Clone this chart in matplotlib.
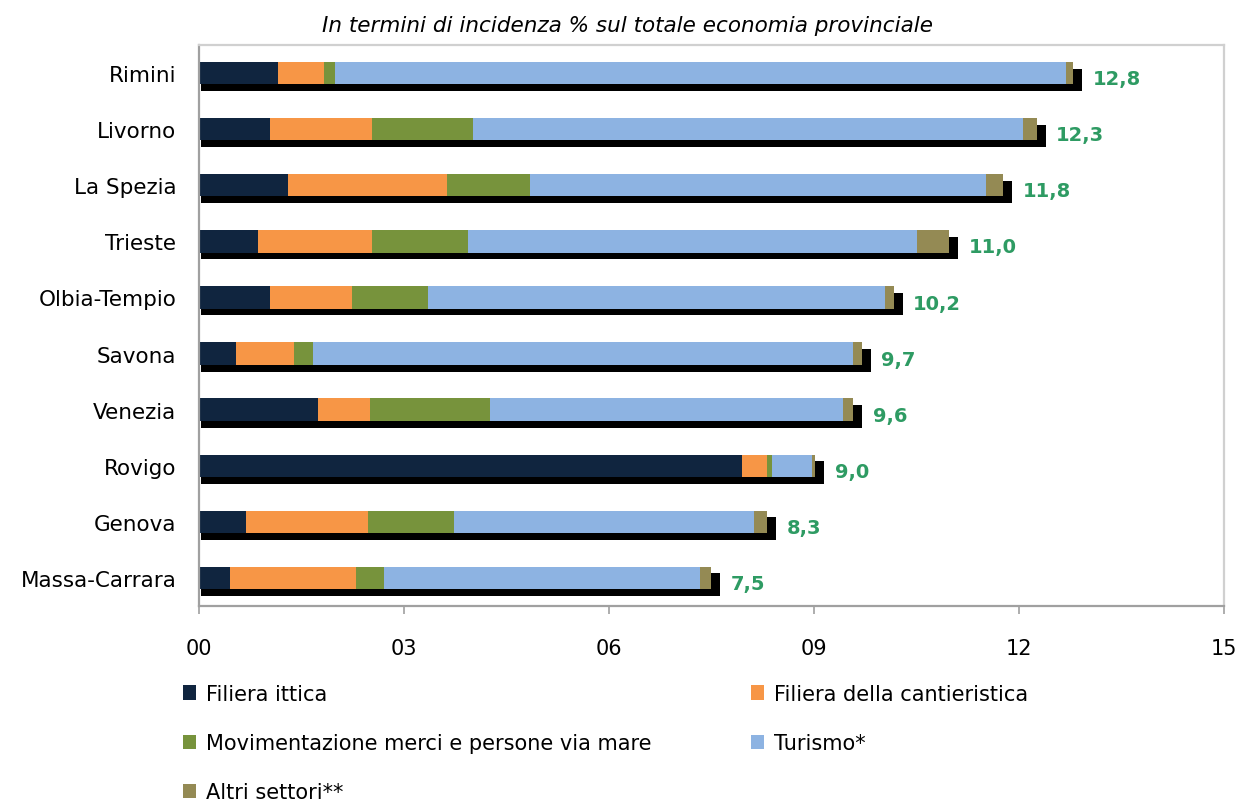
import matplotlib
matplotlib.use("Agg")
import matplotlib.pyplot as plt
from matplotlib.patches import Patch
import numpy as np

plt.rcParams['font.family'] = ['DejaVu Sans']

provinces = ["Rimini", "Livorno", "La Spezia", "Trieste", "Olbia-Tempio",
             "Savona", "Venezia", "Rovigo", "Genova", "Massa-Carrara"]
ittica = [1.17, 1.05, 1.31, 0.87, 1.05, 0.55, 1.75, 7.95, 0.70, 0.46]
cantieristica = [0.66, 1.49, 2.32, 1.67, 1.20, 0.85, 0.76, 0.36, 1.78, 1.84]
movimentazione = [0.17, 1.48, 1.22, 1.40, 1.10, 0.28, 1.75, 0.08, 1.25, 0.42]
turismo = [10.69, 8.04, 6.67, 6.57, 6.69, 7.89, 5.16, 0.59, 4.40, 4.62]
altri = [0.10, 0.20, 0.25, 0.47, 0.13, 0.13, 0.16, 0.04, 0.19, 0.16]

series_names = ["Filiera ittica", "Filiera della cantieristica",
                "Movimentazione merci e persone via mare", "Turismo*", "Altri settori**"]
series_values = [ittica, cantieristica, movimentazione, turismo, altri]
colors = ["#10253F", "#F79646", "#77933C", "#8DB3E2", "#948A54"]
xticks = [0, 3, 6, 9, 12, 15]
xtick_labels = ["00", "03", "06", "09", "12", "15"]
title = "In termini di incidenza % sul totale economia provinciale"

fig = plt.figure(figsize=(12.41, 8.03), dpi=100)
ax = fig.add_axes([198.5 / 1241, 1 - 607 / 803, (1224 - 198.5) / 1241, (607 - 46) / 803])

y = np.arange(len(provinces))
h = 0.40
totals = np.sum(np.array(series_values), axis=0)

# shadow bars
ax.barh(y + 0.12, totals + 0.09, left=0.04, height=h, color="black", zorder=1)

left = np.zeros(len(provinces))
for name, vals, c in zip(series_names, series_values, colors):
    ax.barh(y, vals, left=left, height=h, color=c, label=name, zorder=2)
    left = left + np.array(vals)

for yi, t in zip(y, totals):
    ax.annotate(f"{t:.1f}".replace(".", ","), xy=(t, yi), xytext=(14, -4),
                textcoords="offset points", ha="left", va="center",
                color="#2E9B63", fontsize=14, fontweight="bold", zorder=3)

ax.set_xlim(0, 15)
ax.set_ylim(len(provinces) - 0.5, -0.5)
ax.set_yticks(y)
ax.set_yticklabels(provinces, fontsize=15.5)
ax.set_xticks(xticks)
ax.set_xticklabels(xtick_labels, fontsize=15)
ax.tick_params(axis="y", length=0, pad=16)
ax.tick_params(axis="x", length=6, width=1.2, color="#A0A0A0", direction="out", pad=17)

for s in ["left", "bottom"]:
    ax.spines[s].set_color("#A0A0A0")
    ax.spines[s].set_linewidth(1.6)
for s in ["top", "right"]:
    ax.spines[s].set_color("#D0D0D0")
    ax.spines[s].set_linewidth(1.6)

fig.text(628 / 1241, 1 - 26 / 803, title, ha="center", va="center",
         fontsize=15.5, fontstyle="italic")

handles = [Patch(facecolor=c) for c in colors]
col1 = [0, 2, 4]
col2 = [1, 3]
legkw = dict(frameon=False, fontsize=15, handlelength=0.6, handleheight=0.7,
             handletextpad=0.5, labelspacing=1.4, borderpad=0, borderaxespad=0,
             loc="upper left")
fig.legend([handles[i] for i in col1], [series_names[i] for i in col1],
           bbox_to_anchor=(183 / 1241, 1 - 685 / 803), **legkw)
fig.legend([handles[i] for i in col2], [series_names[i] for i in col2],
           bbox_to_anchor=(751 / 1241, 1 - 685 / 803), **legkw)

fig.savefig("out.png", dpi=100)
